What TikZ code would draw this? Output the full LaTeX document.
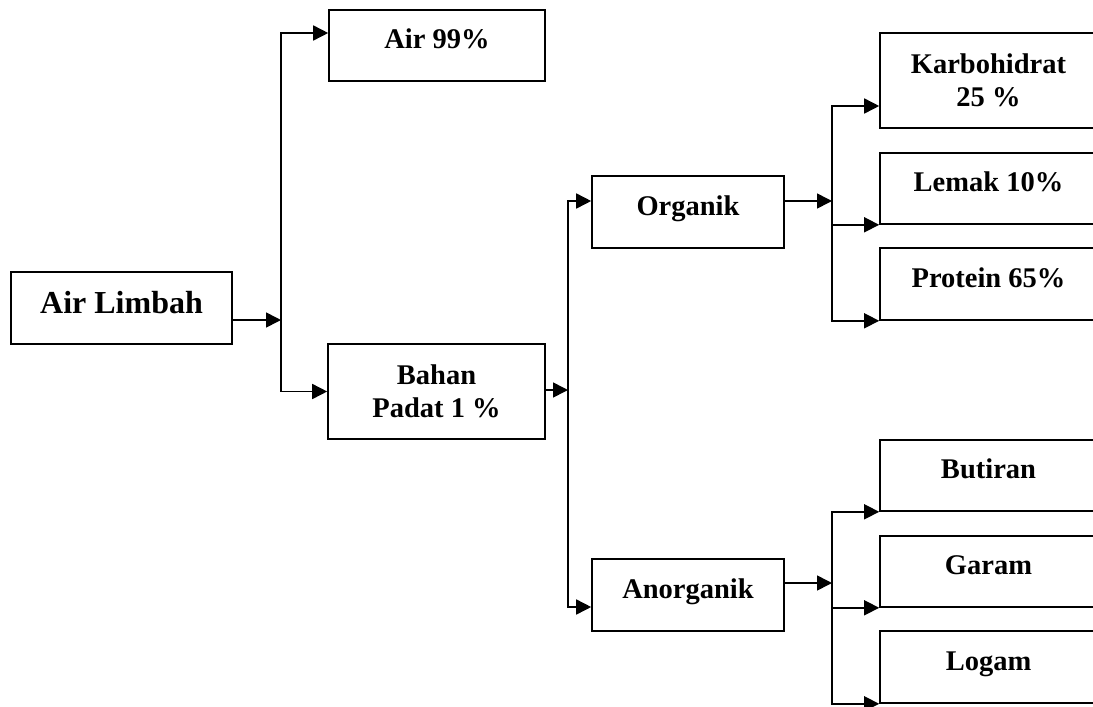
\documentclass[tikz,border=0pt]{standalone}
\usepackage{fontspec}
\setmainfont{Liberation Serif}
\usepackage{tikz}
\usetikzlibrary{arrows.meta}
\usetikzlibrary{calc}
\tikzset{
    block/.style={draw=black, inner sep=0pt, align=center,
        font=\bfseries\fontsize{28.5}{33.5}\selectfont},
    oneline/.style={block, text height=18.6pt, text depth=12pt},
    feed/.style={draw=black, -{Triangle[length=15pt,width=15pt]}},
}

\begin{document}
\begin{tikzpicture}[x=1pt, y=-1pt, line width=1.6pt]
	\path[use as bounding box, clip] (0,0) rectangle (1093,707);
	\node[oneline, minimum width=221pt, minimum height=72pt,
		font=\bfseries\fontsize{32}{38}\selectfont, text height=21pt, text depth=9.8pt]
		(limbah) at (121.5,308) {Air Limbah};
	\node[oneline, minimum width=216pt, minimum height=71pt] (air) at (437,45.5) {Air 99\%};
	\node[block, minimum width=217pt, minimum height=95pt] (padat) at (436.5,391.5) {Bahan\\Padat 1 \%};
	\node[oneline, minimum width=192pt, minimum height=72pt] (organik) at (688,212) {Organik};
	\node[oneline, minimum width=192pt, minimum height=72pt] (anorganik) at (688,595) {Anorganik};
	\node[block, minimum width=217pt, minimum height=95pt] (karbo) at (988.5,80.5) {Karbohidrat\\25 \%};
	\node[oneline, minimum width=217pt, minimum height=71pt] (lemak) at (988.5,188.5) {Lemak 10\%};
	\node[oneline, minimum width=217pt, minimum height=72pt] (protein) at (988.5,284) {Protein 65\%};
	\node[oneline, minimum width=217pt, minimum height=71pt] (butiran) at (988.5,475.5) {Butiran};
	\node[oneline, minimum width=217pt, minimum height=71pt] (garam) at (988.5,571.5) {Garam};
	\node[oneline, minimum width=217pt, minimum height=72pt] (logam) at (988.5,667) {Logam};
	% Air Limbah
	\coordinate (j0) at (281,320);
	\coordinate (j1) at (281,33);
	\draw[feed] (limbah.east |- j0) -- (j0);
	\draw[feed] (j0) |- (j1 -| air.west);
	\draw[feed] (j0) |- (padat.west);
	% Bahan padat
	\coordinate (k0) at (568,390);
	\coordinate (k1) at (568,201);
	\coordinate (k2) at (568,607);
	\draw[feed] (padat.east |- k0) -- (k0);
	\draw[feed] (k0) |- (k1 -| organik.west);
	\draw[feed] (k0) |- (k2 -| anorganik.west);
	% Organik
	\coordinate (m0) at (832,201);
	\coordinate (m1) at (832,106);
	\draw[feed] (organik.east |- m0) -- (m0);
	\draw[feed] (m0) |- (m1 -| karbo.west);
	\draw[feed] (m0) |- (lemak.south west);
	\draw[feed] (m0) |- (protein.south west);
	% Anorganik
	\coordinate (n0) at (832,583);
	\draw[feed] (anorganik.east |- n0) -- (n0);
	\draw[feed] (n0) |- (butiran.south west);
	\draw[feed] (n0) |- (garam.south west);
	\draw[feed] (n0) |- (logam.south west);
\end{tikzpicture}
\end{document}
